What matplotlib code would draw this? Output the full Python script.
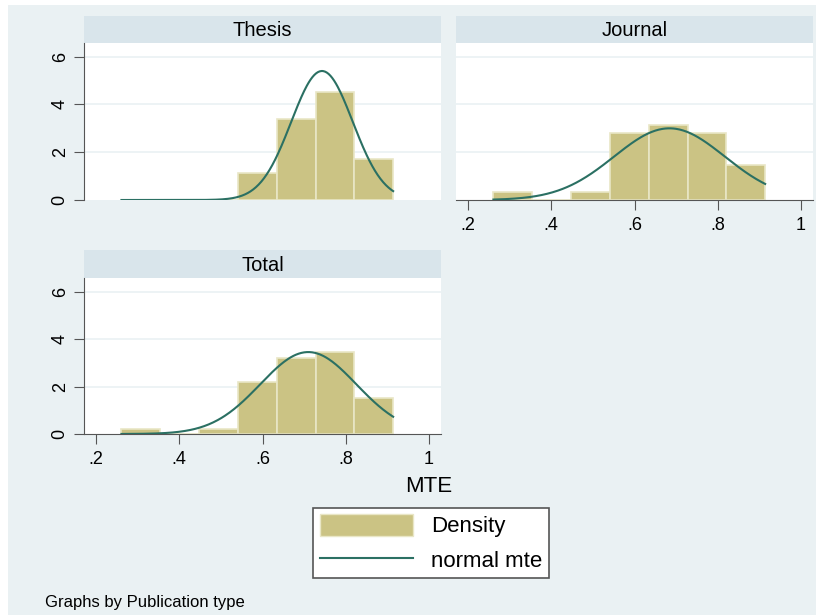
import numpy as np
import matplotlib.pyplot as plt
from matplotlib.patches import Rectangle, Patch
from matplotlib.lines import Line2D

plt.rcParams['font.family'] = ['Liberation Sans', 'DejaVu Sans']

# histogram bins (shared edges) and densities per publication type
bin_edges = [0.261, 0.354, 0.448, 0.541, 0.635, 0.728, 0.821, 0.914]
thesis_density = [0, 0, 0, 1.15, 3.38, 4.52, 1.72]
journal_density = [0.35, 0, 0.35, 2.80, 3.15, 2.80, 1.45]
total_density = [0.22, 0, 0.22, 2.17, 3.22, 3.45, 1.52]

# normal overlay parameters (mean, sd)
thesis_norm = (0.743, 0.0739)
journal_norm = (0.684, 0.133)
total_norm = (0.710, 0.1156)

panel_titles = ['Thesis', 'Journal', 'Total']
xticks = [0.2, 0.4, 0.6, 0.8, 1.0]
xticklabels = ['.2', '.4', '.6', '.8', '1']
yticks = [0, 2, 4, 6]

bg = '#eaf1f3'
strip = '#d9e5eb'
bar_col = '#cbc384'
bar_edge = '#e9e6c6'
line_col = '#2b7063'
axis_col = '#555555'

W, H = 817, 615
fig = plt.figure(figsize=(W / 100, H / 100), dpi=100)
fig.patch.set_facecolor('white')
fig.patches.append(Rectangle((8 / W, 0), 1 - 9 / W, 1 - 5 / H, transform=fig.transFigure,
                             facecolor=bg, edgecolor='none', zorder=-10))


def pbox(x0, x1, y0, y1):
    return [x0 / W, 1 - y1 / H, (x1 - x0) / W, (y1 - y0) / H]


def panel(x0, x1, ytop, y0, y1, title, dens, norm, show_y, show_x):
    # strip with title
    sax = fig.add_axes(pbox(x0, x1, ytop, y0))
    sax.set_facecolor(strip)
    sax.set_xticks([])
    sax.set_yticks([])
    for s in sax.spines.values():
        s.set_visible(False)
    sax.text(0.5, 0.45, title, ha='center', va='center', fontsize=14.5, transform=sax.transAxes)

    ax = fig.add_axes(pbox(x0, x1, y0, y1))
    ax.set_facecolor('white')
    ax.set_xlim(0.171, 1.029)
    ax.set_ylim(0, 6.57)
    for yv in [2, 4, 6]:
        ax.axhline(yv, color=bg, lw=1.2, zorder=0)
    ax.bar(bin_edges[:-1], dens, width=np.diff(bin_edges), align='edge',
           color=bar_col, edgecolor=bar_edge, linewidth=1.2, zorder=2)
    mu, sd = norm
    xs = np.linspace(bin_edges[0], bin_edges[-1], 300)
    ax.plot(xs, np.exp(-0.5 * ((xs - mu) / sd) ** 2) / (sd * np.sqrt(2 * np.pi)),
            color=line_col, lw=1.5, zorder=3)
    for s in ['top', 'right']:
        ax.spines[s].set_visible(False)
    ax.spines['left'].set_visible(show_y)
    ax.spines['bottom'].set_visible(show_x)
    ax.spines['left'].set_color(axis_col)
    ax.spines['bottom'].set_color(axis_col)
    if show_y:
        ax.set_yticks(yticks)
        ax.set_yticklabels([str(v) for v in yticks], rotation=90, va='center', fontsize=13)
        ax.tick_params(axis='y', length=7, color=axis_col, pad=4)
    else:
        ax.set_yticks([])
    if show_x:
        ax.set_xticks(xticks)
        ax.set_xticklabels(xticklabels, fontsize=13)
        ax.tick_params(axis='x', length=7, color=axis_col, pad=5)
    else:
        ax.set_xticks([])
    return ax


panel(84, 441, 16, 43, 200, panel_titles[0], thesis_density, thesis_norm, True, False)
panel(456, 813, 16, 43, 200, panel_titles[1], journal_density, journal_norm, False, True)
panel(84, 441, 250, 278, 434, panel_titles[2], total_density, total_norm, True, True)

fig.text(429 / W, 1 - 486 / H, 'MTE', ha='center', va='center', fontsize=16)

handles = [Patch(facecolor=bar_col, edgecolor=bar_edge), Line2D([0], [0], color=line_col, lw=1.5)]
leg = fig.legend(handles, ['Density', 'normal mte'], loc='center',
                 bbox_to_anchor=(431 / W, 1 - 543 / H), fontsize=16, frameon=True,
                 fancybox=False, edgecolor='#555555', facecolor='white', framealpha=1,
                 handlelength=4.2, handleheight=1.1,
                 handletextpad=0.8, borderpad=0.3, labelspacing=0.5, borderaxespad=0)
leg.get_frame().set_linewidth(1.2)

fig.text(45 / W, 1 - 602 / H, 'Graphs by Publication type', ha='left', va='center', fontsize=12)

fig.savefig('out.png', dpi=100, facecolor=fig.get_facecolor())
